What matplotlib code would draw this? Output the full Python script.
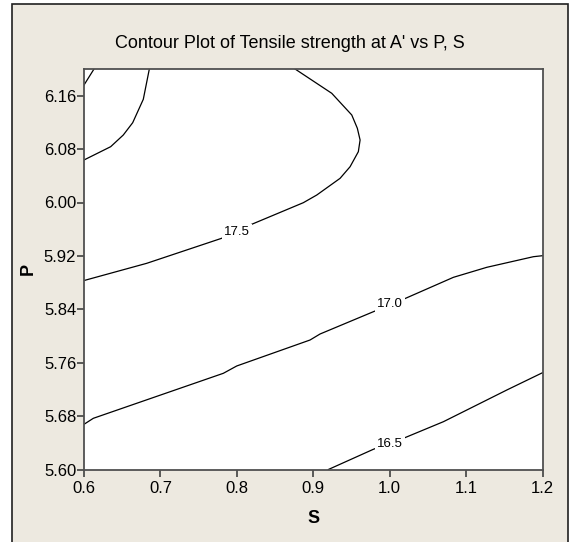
import matplotlib
matplotlib.use("Agg")
import matplotlib.pyplot as plt
from matplotlib.patches import Rectangle

plt.rcParams['font.family'] = ['Liberation Sans Narrow', 'Liberation Sans', 'DejaVu Sans']

# contour lines of tensile strength (S on x, P on y)
s_185 = [0.6131, 0.6]
p_185 = [6.20, 6.176]

s_180 = [0.6855, 0.6776, 0.6637, 0.6514, 0.6349, 0.6]
p_180 = [6.20, 6.1546, 6.1195, 6.1011, 6.0836, 6.0637]

s_175 = [0.8762, 0.9242, 0.9504, 0.9577, 0.9613, 0.9590, 0.9482, 0.9351,
         0.9046, 0.8870, 0.8173, 0.7802, 0.6821, 0.6]
p_175 = [6.20, 6.1636, 6.1311, 6.1112, 6.0936, 6.0761, 6.0536, 6.0362,
         6.0112, 5.9997, 5.9663, 5.9464, 5.9089, 5.8831]

s_170 = [0.6, 0.6122, 0.7823, 0.7999, 0.8958, 0.9089, 0.9787, 1.0179,
         1.0834, 1.1271, 1.1881, 1.2]
p_170 = [5.6677, 5.6767, 5.7441, 5.7551, 5.7940, 5.8030, 5.8364, 5.8550,
         5.8879, 5.9029, 5.9188, 5.9203]

s_165 = [0.9198, 0.9787, 1.0179, 1.0703, 1.1009, 1.1533, 1.2]
p_165 = [5.60, 5.6303, 5.6467, 5.6716, 5.6891, 5.7191, 5.7450]

contour_labels = ["17.5", "17.0", "16.5"]
label_s = [0.8007, 1.0005, 1.0005]
label_p = [5.9562, 5.8479, 5.6378]

x_ticks = [0.6, 0.7, 0.8, 0.9, 1.0, 1.1, 1.2]
y_ticks = [5.60, 5.68, 5.76, 5.84, 5.92, 6.00, 6.08, 6.16]

bg = '#EDE9E0'
W, H = 573, 542
fig = plt.figure(figsize=(W / 100, H / 100), dpi=100)
fig.patch.set_facecolor('white')

# beige panel with dark border, kept behind the axes
panel = Rectangle((12 / W, -0.05), (568 - 12) / W, 1.05 - 4 / H,
                  transform=fig.transFigure, facecolor=bg,
                  edgecolor='#202020', linewidth=1.2, zorder=-10)
fig.patches.append(panel)

ax = fig.add_axes([84 / W, 1 - 469.5 / H, (542.5 - 84) / W, (469.5 - 69) / H])
ax.set_zorder(5)
ax.set_facecolor('white')

for s, p in [(s_185, p_185), (s_180, p_180), (s_175, p_175),
             (s_170, p_170), (s_165, p_165)]:
    ax.plot(s, p, color='black', linewidth=0.9)

for txt, s, p in zip(contour_labels, label_s, label_p):
    ax.text(s, p, txt, ha='center', va='center', fontsize=9.5,
            bbox=dict(facecolor='white', edgecolor='none', pad=1.5))

ax.set_xlim(0.6, 1.2)
ax.set_ylim(5.60, 6.20)
ax.set_xticks(x_ticks)
ax.set_xticklabels([f"{v:.1f}" for v in x_ticks])
ax.set_yticks(y_ticks)
ax.set_yticklabels([f"{v:.2f}" for v in y_ticks])
ax.tick_params(direction='out', length=5, width=1.2, color='#404040',
               labelsize=12)
ax.tick_params(axis='x', pad=3)
ax.tick_params(axis='y', pad=0.5)
for sp in ax.spines.values():
    sp.set_color('#505050')
    sp.set_linewidth(1.3)

ax.set_xlabel('S', fontsize=13, fontweight='bold')
ax.set_ylabel('P', fontsize=13, fontweight='bold')
ax.xaxis.set_label_coords(0.5, -0.102)
ax.yaxis.set_label_coords(-0.104, 0.5)

fig.text(290 / W, 1 - 43 / H, "Contour Plot of Tensile strength at A' vs P, S",
         ha='center', va='center', fontsize=13)

fig.savefig('out.png', dpi=100, facecolor=fig.get_facecolor())
